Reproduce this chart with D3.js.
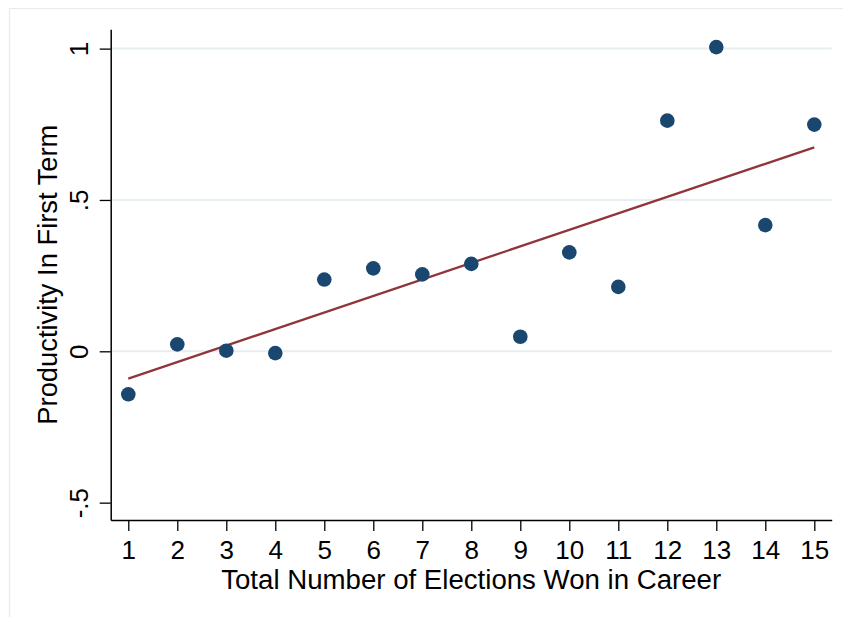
<!DOCTYPE html>
<html>
<head>
<meta charset="utf-8">
<script src="https://cdn.jsdelivr.net/npm/d3@7"></script>
<style>
  body { margin: 0; background: #fff; }
  text { font-family: "Liberation Sans", Arial, Helvetica, sans-serif; fill: #000; }
</style>
</head>
<body>
<script>
var w = 843;
var h = 617;

// data
var elections = [1, 2, 3, 4, 5, 6, 7, 8, 9, 10, 11, 12, 13, 14, 15];
var productivity = [-0.142, 0.023, 0.002, -0.006, 0.237, 0.274, 0.254, 0.289, 0.048, 0.327, 0.213, 0.762, 1.005, 0.417, 0.749];
var fitX = [1, 15];
var fitY = [-0.090, 0.674];
var xTicks = [1, 2, 3, 4, 5, 6, 7, 8, 9, 10, 11, 12, 13, 14, 15];
var yTicks = [-0.5, 0, 0.5, 1];
var yTickLabels = ["-.5", "0", ".5", "1"];
var gridValues = [0, 0.5, 1];

var plotLeft = 110.7, plotRight = 831.7, plotTop = 29.3, plotBottom = 520;
var navy = "#1a476f";
var maroon = "#90353b";

var svg = d3.select("body")
    .append("svg")
    .attr("width", w)
    .attr("height", h);

// graph region frame
svg.append("rect")
    .attr("x", 9.5)
    .attr("y", 8.5)
    .attr("width", w)
    .attr("height", h)
    .attr("fill", "#fff")
    .attr("stroke", "#e6ecee")
    .attr("stroke-width", 1.2);

var xScale = d3.scaleLinear()
    .domain([0.641, 15.355])
    .range([plotLeft, plotRight]);

var yScale = d3.scaleLinear()
    .domain([-0.5573, 1.0638])
    .range([plotBottom, plotTop]);

// grid lines
svg.selectAll("line.grid")
    .data(gridValues)
    .enter()
    .append("line")
    .attr("class", "grid")
    .attr("x1", plotLeft)
    .attr("x2", plotRight)
    .attr("y1", d => yScale(d))
    .attr("y2", d => yScale(d))
    .attr("stroke", "#e6eef1")
    .attr("stroke-width", 2);

// axes
var xAxis = svg.append("g")
    .attr("transform", "translate(0," + plotBottom + ")")
    .call(d3.axisBottom(xScale).tickValues(xTicks).tickSize(11).tickSizeOuter(0));

var yAxis = svg.append("g")
    .attr("transform", "translate(" + plotLeft + ",0)")
    .call(d3.axisLeft(yScale).tickValues(yTicks).tickSize(11).tickSizeOuter(0)
        .tickFormat((d, i) => yTickLabels[i]));

[xAxis, yAxis].forEach(g => {
    g.attr("font-family", null).attr("font-size", null);
    g.select(".domain").attr("stroke", "#000").attr("stroke-width", 1.5);
    g.selectAll(".tick line").attr("stroke", "#000").attr("stroke-width", 1.3);
    g.selectAll(".tick text").attr("font-size", 26).attr("fill", "#000");
});

xAxis.selectAll(".tick text")
    .attr("y", 39)
    .attr("dy", 0);

yAxis.selectAll(".tick text")
    .attr("x", null)
    .attr("dy", 0)
    .attr("transform", "translate(-22.7,0) rotate(-90)")
    .attr("text-anchor", "middle");

// fitted line
svg.append("line")
    .attr("x1", xScale(fitX[0]))
    .attr("y1", yScale(fitY[0]))
    .attr("x2", xScale(fitX[1]))
    .attr("y2", yScale(fitY[1]))
    .attr("stroke", maroon)
    .attr("stroke-width", 2.3);

// points
svg.selectAll("circle")
    .data(elections)
    .enter()
    .append("circle")
    .attr("cx", d => xScale(d))
    .attr("cy", (d, i) => yScale(productivity[i]))
    .attr("r", 7.3)
    .attr("fill", navy);

// axis titles
svg.append("text")
    .attr("x", (plotLeft + plotRight) / 2)
    .attr("y", 588.7)
    .attr("text-anchor", "middle")
    .attr("font-size", 27)
    .attr("textLength", 500)
    .attr("lengthAdjust", "spacingAndGlyphs")
    .text("Total Number of Elections Won in Career");

svg.append("text")
    .attr("transform", "translate(57," + ((plotTop + plotBottom) / 2) + ") rotate(-90)")
    .attr("text-anchor", "middle")
    .attr("font-size", 27)
    .attr("textLength", 300)
    .attr("lengthAdjust", "spacingAndGlyphs")
    .text("Productivity In First Term");
</script>
</body>
</html>
